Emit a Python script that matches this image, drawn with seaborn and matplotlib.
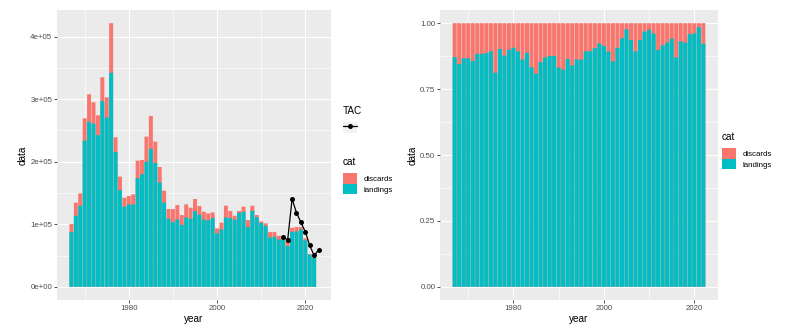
import matplotlib
matplotlib.use("Agg")
import matplotlib.pyplot as plt
import pandas as pd
import seaborn as sns
from matplotlib.patches import Rectangle
from matplotlib.lines import Line2D
from matplotlib.ticker import FixedLocator

# ---- data -------------------------------------------------------------
years = list(range(1967, 2023))
landings = [87400, 113600, 129400, 233500, 263700, 260700, 242300, 296700, 270500, 342100,
            215500, 154400, 128000, 131600, 131900, 173800, 180000, 199900, 220700, 197700,
            166600, 134600, 108800, 103400, 107700, 99100, 110600, 109000, 120900, 115300,
            107300, 106200, 109800, 85300, 91500, 110800, 109800, 107100, 118300, 119800,
            95300, 121400, 111000, 102000, 97400, 78600, 80100, 75600, 75300, 65000,
            87900, 88500, 91500, 74300, 51500, 46200]
discards = [12900, 20800, 19900, 35800, 44000, 34200, 31800, 38200, 32400, 79200,
            23400, 21600, 14400, 13500, 15800, 27800, 22700, 40100, 52400, 34300,
            24900, 19000, 15500, 20900, 23000, 15600, 21100, 17400, 19400, 13800,
            12700, 11100, 9200, 8000, 11000, 18800, 11300, 6500, 2800, 8200,
            11400, 8200, 3700, 2600, 4000, 8900, 7400, 6000, 4700, 9700,
            6500, 7000, 4000, 3000, 800, 3900]
tac_years = list(range(2015, 2024))
tac = [80000, 74700, 140300, 118500, 103000, 88000, 66100, 50100, 58700]

categories = ["discards", "landings"]
palette = {"discards": "#F8766D", "landings": "#00BFC4"}

x_ticks = [1980, 2000, 2020]
y_ticks_abs = [0, 100000, 200000, 300000, 400000]
y_labels_abs = ["0e+00", "1e+05", "2e+05", "3e+05", "4e+05"]
y_ticks_frac = [0.0, 0.25, 0.5, 0.75, 1.0]
y_labels_frac = ["0.00", "0.25", "0.50", "0.75", "1.00"]

# stacked layout: discards sit on top of landings
catch = pd.DataFrame({"year": years, "landings": landings, "discards": discards})
catch["total"] = catch["landings"] + catch["discards"]
catch["land_share"] = catch["landings"] / catch["total"]
catch["whole"] = catch["total"] / catch["total"]

# ---- style ------------------------------------------------------------
sns.set_theme(style="darkgrid", rc={
    "axes.facecolor": "#EBEBEB",
    "grid.color": "white",
})
plt.rcParams["font.family"] = ["Liberation Sans", "DejaVu Sans"]

W, H = 792, 332
fig = plt.figure(figsize=(W / 100, H / 100), dpi=100)
fig.patch.set_facecolor("white")


def px_axes(x0, y0, x1, y1):
    return fig.add_axes([x0 / W, 1 - y1 / H, (x1 - x0) / W, (y1 - y0) / H])


def expand(lo, hi, f=0.05):
    pad = (hi - lo) * f
    return lo - pad, hi + pad


def minor_between(ticks):
    step = ticks[1] - ticks[0]
    return [ticks[0] - step / 2] + [t + step / 2 for t in ticks]


def stacked_bars(ax, top_col, bottom_col):
    bar_kw = dict(native_scale=True, width=0.9, linewidth=0, edgecolor="none",
                  errorbar=None, snap=False, ax=ax)
    sns.barplot(data=catch, x="year", y=top_col, color=palette["discards"],
                saturation=1, **bar_kw)
    sns.barplot(data=catch, x="year", y=bottom_col, color=palette["landings"],
                saturation=1, **bar_kw)


def style_axes(ax, xt, yt, ylabels):
    ax.set_axisbelow(True)
    for s in ax.spines.values():
        s.set_visible(False)
    ax.set_xticks(xt)
    ax.set_xticklabels([str(t) for t in xt])
    ax.set_yticks(yt)
    ax.set_yticklabels(ylabels)
    ax.xaxis.set_minor_locator(FixedLocator(minor_between(xt)))
    ax.yaxis.set_minor_locator(FixedLocator(minor_between(yt)))
    ax.grid(which="major", color="white", linewidth=0.85)
    ax.grid(which="minor", color="white", linewidth=0.45)
    ax.tick_params(which="major", length=2.2, width=0.6, color="#333333",
                   labelsize=5.7, labelcolor="#4D4D4D", pad=1.2,
                   bottom=True, left=True)
    ax.tick_params(which="minor", length=0)
    ax.set_xlabel("year", fontsize=7.2, color="black", labelpad=1.5)
    ax.set_ylabel("data", fontsize=7.2, color="black", labelpad=2)


# ---- left panel: absolute catch with TAC line ---------------------------
ax1 = px_axes(57, 10, 331, 300)
stacked_bars(ax1, "total", "landings")
sns.lineplot(x=tac_years, y=tac, color="black", marker="o", markersize=3.6,
             markeredgewidth=0, linewidth=0.9, ax=ax1)

x_lo = min(min(years) - 0.45, min(tac_years))
x_hi = max(max(years) + 0.45, max(tac_years))
ax1.set_xlim(*expand(x_lo, x_hi))
ax1.set_ylim(*expand(0, max(catch["total"].max(), max(tac))))
style_axes(ax1, x_ticks, y_ticks_abs, y_labels_abs)

# ---- right panel: proportions -----------------------------------------
ax2 = px_axes(440, 10, 718, 300)
stacked_bars(ax2, "whole", "land_share")
ax2.set_xlim(*expand(min(years) - 0.45, max(years) + 0.45))
ax2.set_ylim(*expand(0, 1))
style_axes(ax2, x_ticks, y_ticks_frac, y_labels_frac)

# ---- legends ----------------------------------------------------------
leg_kw = dict(frameon=False, fontsize=5.7, title_fontsize=7.2, borderpad=0,
              handlelength=1.8, handleheight=1.75, handletextpad=0.75,
              labelspacing=0, borderaxespad=0, alignment="left", loc="upper left")

fill_handles = [Rectangle((0, 0), 1, 1, facecolor=palette[c], edgecolor="none")
                for c in categories]

tac_key = (Rectangle((0, 0), 1, 1, facecolor="#F2F2F2", edgecolor="none"),
           Line2D([], [], color="black", marker="o", markersize=3.6,
                  markeredgewidth=0, linewidth=0.9))
leg_tac = fig.legend([tac_key], [""], title="TAC", numpoints=1,
                     bbox_to_anchor=(343 / W, 1 - 106 / H), **leg_kw)
leg_cat1 = fig.legend(fill_handles, categories, title="cat",
                      bbox_to_anchor=(343 / W, 1 - 157 / H), **leg_kw)
leg_cat2 = fig.legend(fill_handles, categories, title="cat",
                      bbox_to_anchor=(722 / W, 1 - 132 / H), **leg_kw)
for lg in (leg_tac, leg_cat1, leg_cat2):
    lg._legend_box.sep = 4.0  # gap between title and keys, in points
    lg.get_title().set_color("black")
    for t in lg.get_texts():
        t.set_color("black")

fig.savefig("out.png", dpi=100, facecolor="white")
